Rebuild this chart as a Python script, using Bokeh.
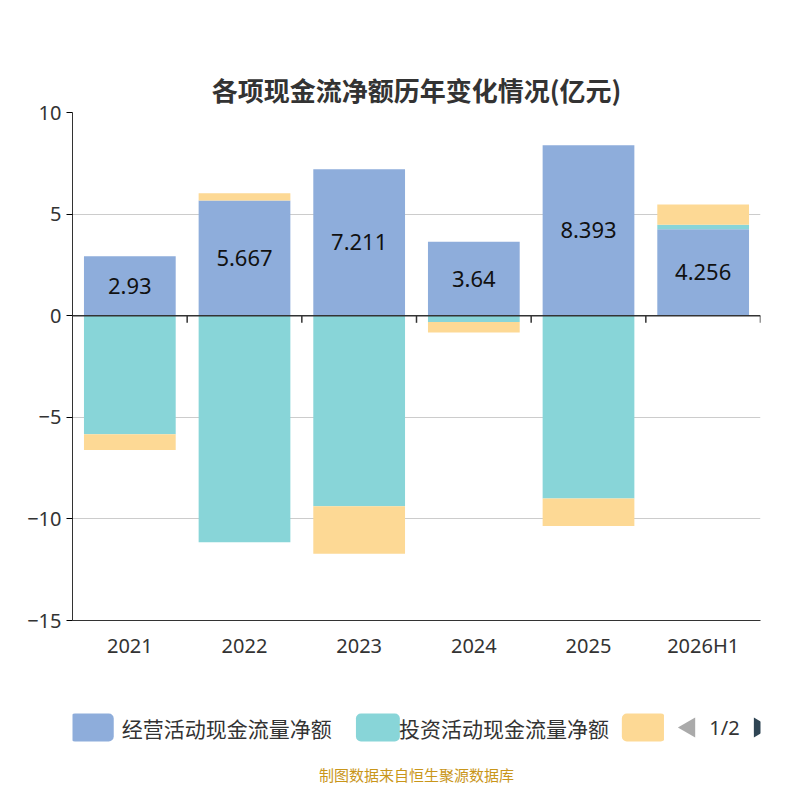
from bokeh.plotting import figure
from bokeh.models import FixedTicker, Span, Title, Range1d
from bokeh.layouts import column
from bokeh.embed import file_html
from bokeh.resources import INLINE
from bokeh.core.properties import value

years = ["2021", "2022", "2023", "2024", "2025", "2026H1"]
operating = [2.93, 5.667, 7.211, 3.64, 8.393, 4.256]
investing = [-5.83, -11.15, -9.375, -0.31, -9.0, 0.22]
financing = [-0.78, 0.36, -2.34, -0.52, -1.35, 1.0]
series_names = ["经营活动现金流量净额", "投资活动现金流量净额", "筹资活动现金流量净额"]
colors = ["#8eaddb", "#88d5d8", "#fdd995"]
FONT = value("Noto Sans CJK SC")

xs = list(range(len(years)))
pos = [0.0] * 6
neg = [0.0] * 6
stacks = []
for vals in (operating, investing, financing):
    b, t = [], []
    for i, v in enumerate(vals):
        if v >= 0:
            b.append(pos[i]); t.append(pos[i] + v); pos[i] += v
        else:
            b.append(neg[i]); t.append(neg[i] + v); neg[i] += v
    stacks.append((b, t))

p = figure(width=784, height=680, output_backend="svg", toolbar_location=None,
           x_range=Range1d(-0.5, 5.5), y_range=Range1d(-15, 10),
           min_border_left=72, min_border_right=24, min_border_top=112, min_border_bottom=60)
p.add_layout(Title(text="各项现金流净额历年变化情况(亿元)", align="center", text_font_size="26px",
                   text_font="Noto Sans CJK SC", text_font_style="bold", text_color="#333333", offset=0), "above")
p.outline_line_color = None
p.xgrid.grid_line_color = None
p.ygrid.grid_line_color = "#cccccc"
p.yaxis.ticker = FixedTicker(ticks=[-15, -10, -5, 0, 5, 10])
p.xaxis.ticker = FixedTicker(ticks=xs)
p.xaxis.major_label_overrides = {i: y for i, y in enumerate(years)}
for ax in (p.xaxis, p.yaxis):
    ax.major_label_text_font_size = "20px"
    ax.major_label_text_color = "#333333"
    ax.major_label_text_font = "Noto Sans"
    ax.axis_line_color = "#333333"
    ax.minor_tick_line_color = None
p.xaxis.major_tick_line_color = None
p.yaxis.major_tick_out = 6
p.yaxis.major_tick_in = 0

for (b, t), c in zip(stacks, colors):
    p.vbar(x=xs, bottom=b, top=t, width=0.8, fill_color=c, line_color=None)

p.add_layout(Span(location=0, dimension="width", line_color="#333333", line_width=1.5))
bounds = [i + 0.5 for i in range(len(years))]
p.segment(x0=bounds, x1=bounds, y0=[0] * 6, y1=[-0.35] * 6, line_color="#333333", line_width=1.5)

p.text(x=xs, y=[v / 2 for v in operating], text=[str(v) for v in operating],
       text_align="center", text_baseline="middle", text_font_size="22px",
       text_font=value("Noto Sans"), text_color="#111111")
p.text(x=[-0.5], y=[9.5], text=["(亿元)"], angle=1.5708, x_offset=-62,
       text_align="center", text_baseline="middle", text_font_size="14px",
       text_font=FONT, text_color="red")

lg = figure(width=784, height=106, output_backend="svg", toolbar_location=None,
            x_range=Range1d(0, 784), y_range=Range1d(0, 106), min_border=0)
lg.axis.visible = False
lg.grid.visible = False
lg.outline_line_color = None
rx = [22, 348, 651]
lg.rect(x=rx, y=[59] * 3, width=50, height=28, fill_color=colors, line_color=None,
        border_radius=5)
lg.text(x=[56, 372], y=[59, 59], text=series_names[:2], text_baseline="middle",
        text_font_size="21px", text_font=FONT, text_color="#333333")
lg.rect(x=[684], y=[59], width=20, height=40, fill_color="white", line_color=None)
lg.scatter(x=[703, 783], y=[59, 59], marker="triangle", size=20, angle=[1.5708, -1.5708],
           fill_color=["#aaaaaa", "#2f4554"], line_color=None)
lg.text(x=[743], y=[59], text=["1/2"], text_align="center", text_baseline="middle",
        text_font_size="20px", text_font=value("Noto Sans"), text_color="#333333")
lg.text(x=[392], y=[12], text=["制图数据来自恒生聚源数据库"], text_align="center",
        text_baseline="middle", text_font_size="15px", text_font=FONT, text_color="#c9961a")

open("out.html", "w").write(file_html(column(p, lg, spacing=0), INLINE))
